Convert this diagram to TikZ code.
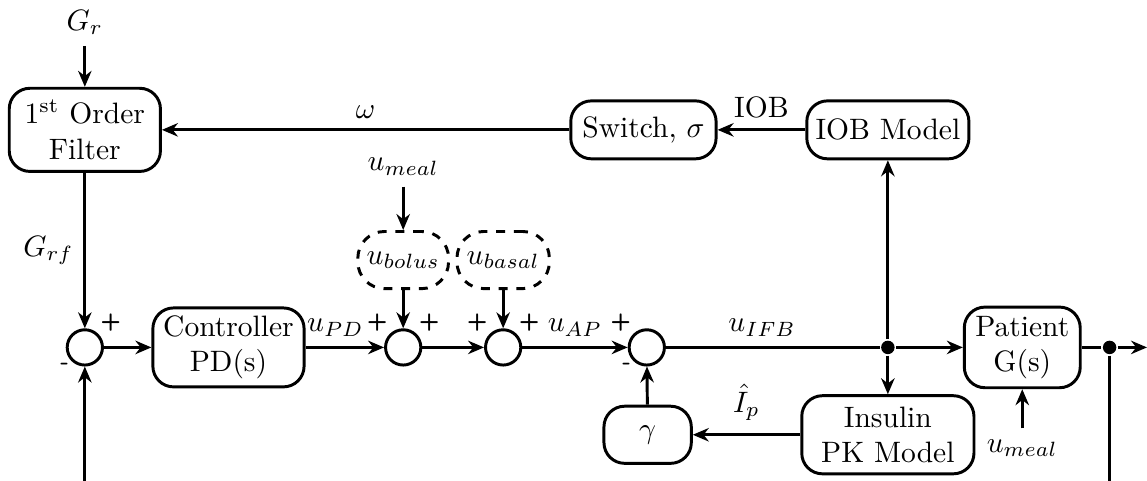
\documentclass[tikz,border=0pt]{standalone}
\usepackage{amsmath,amssymb}
\usepackage{tikz}
\usetikzlibrary{arrows.meta,positioning,calc}

\begin{document}
\begin{tikzpicture}[
  line width=1pt,
  blk/.style={draw, rounded corners=7pt, align=center, inner sep=2pt,
              minimum width=#1, minimum height=9.5mm},
  blk/.default=18mm,
  dsh/.style={draw, dashed, rounded corners=9pt, inner sep=1pt,
              minimum width=#1, minimum height=6.8mm},
  sum/.style={draw, circle, minimum size=4.2mm, inner sep=0pt},
  dot/.style={circle, fill, minimum size=1.6mm, inner sep=0pt},
  arr/.style={-{Stealth[length=1.9mm, width=1.6mm]}},
  sgn/.style={font=\footnotesize\sffamily\bfseries, inner sep=0.3pt}]
\useasboundingbox (0,0) rectangle (13.655,5.726);
% top row
\node (gr) at (1.01, 5.46) {$G_r$};
\node[blk=18mm, minimum height=9.9mm] (filt) at (1.01, 4.18) {1\textsuperscript{st} Order\\Filter};
\node[blk=17.3mm, minimum height=6.9mm] (sw) at (7.66, 4.18) {Switch, $\sigma$};
\node[blk=19.3mm, minimum height=6.9mm] (iob) at (10.57, 4.18) {IOB Model};
% meal inputs
\node (ml1) at (4.80, 3.74) {$u_{meal}$};
\node[dsh=10.8mm] (bol) at (4.80, 2.63) {$u_{bolus}$};
\node[dsh=11mm] (bas) at (5.99, 2.63) {$u_{basal}$};
% main loop
\node[sum, label={[sgn]45:+}, label={[sgn]225:-}] (s0) at (1.01, 1.59) {};
\node[blk=18mm, minimum height=9.4mm] (ctrl) at (2.72, 1.59) {Controller\\PD(s)};
\node[sum, label={[sgn]135:+}, label={[sgn]45:+}] (s1) at (4.80, 1.59) {};
\node[sum, label={[sgn]135:+}, label={[sgn]45:+}] (s2) at (5.99, 1.59) {};
\node[sum, label={[sgn]135:+}, label={[sgn]225:-}] (s3) at (7.70, 1.59) {};
\node[dot] (jn) at (10.57, 1.59) {};
\node[blk=13.8mm, minimum height=9.6mm] (pat) at (12.17, 1.59) {Patient\\G(s)};
\node[dot] (od) at (13.21, 1.59) {};
\coordinate (out) at (13.655, 1.59);
\coordinate (fbr) at (13.21, 0);
\coordinate (fbl) at (1.01, 0);
% bottom row
\node[blk=10.4mm, minimum height=6.8mm] (gam) at (7.71, 0.55) {$\gamma$};
\node[blk=20.5mm, minimum height=9.3mm] (pk) at (10.57, 0.55) {Insulin\\PK Model};
\node (ml2) at (12.17, 0.39) {$u_{meal}$};

\draw[arr] (gr) -- (filt);
\draw[arr] (sw) -- node[above] {$\omega$} (filt);
\draw[arr] (iob) -- node[above] {IOB} (sw);
\draw[arr] (filt) -- node[left] {$G_{rf}$} (s0);
\draw[arr] (fbl) -- (s0);
\draw[arr] (s0) -- (ctrl);
\draw[arr] (ctrl) -- node[above, pos=0.38] {$u_{PD}$} (s1);
\draw[arr] (ml1) -- (bol);
\draw[arr] (bol) -- (s1);
\draw[arr] (bas) -- (s2);
\draw[arr] (s1) -- (s2);
\draw[arr] (s2) -- node[above] {$u_{AP}$} (s3);
\draw (s3) -- node[above, pos=0.45] {$u_{IFB}$} (jn);
\draw[arr] (jn) -- (pat);
\draw[arr] (jn) -- (iob);
\draw[arr] (jn) -- (pk);
\draw[arr] (pk) -- node[above, yshift=1pt] {$\hat{I}_p$} (gam);
\draw[arr] (gam) -- (s3);
\draw[arr] (ml2) -- (pat);
\draw (pat) -- (od);
\draw[arr] (od) -- (out);
\draw (od) -- (fbr);
\end{tikzpicture}
\end{document}
